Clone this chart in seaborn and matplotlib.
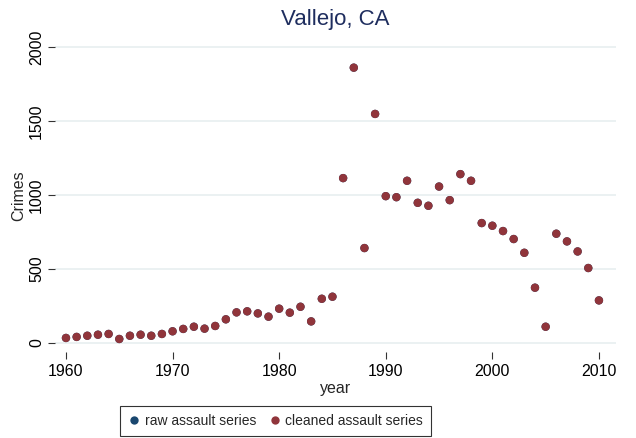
import numpy as np
import pandas as pd
import seaborn as sns
import matplotlib
matplotlib.use("Agg")
import matplotlib.pyplot as plt
from matplotlib.lines import Line2D

years = list(range(1960, 2011))
cleaned = [34, 41, 49, 56, 61, 27, 49, 56, 49, 61,
           79, 95, 110, 97, 115, 160, 207, 214, 200, 178,
           232, 205, 245, 146, 299, 313, 1115, 1862, 642, 1549,
           993, 986, 1097, 948, 928, 1058, 966, 1142, 1097, 811,
           793, 757, 703, 610, 374, 110, 739, 687, 619, 507, 288]
raw = list(cleaned)
series_names = ["raw assault series", "cleaned assault series"]
colors = ["#1a476f", "#90353b"]
x_ticks = [1960, 1970, 1980, 1990, 2000, 2010]
y_ticks = [0, 500, 1000, 1500, 2000]

sns.set_theme(style="white")
plt.rcParams['font.family'] = ['Liberation Sans', 'DejaVu Sans']

df = pd.DataFrame({
    "year": years * 2,
    "Crimes": raw + cleaned,
    "series": [series_names[0]] * len(years) + [series_names[1]] * len(years),
})

fig = plt.figure(figsize=(6.36, 4.38), dpi=100)
W, H = 636, 438
left, right, top, bottom = 55, 616, 40, 352
ax = fig.add_axes([left / W, 1 - bottom / H, (right - left) / W, (bottom - top) / H])

sns.scatterplot(data=df, x="year", y="Crimes", hue="series", hue_order=series_names,
                palette=colors, s=36, linewidth=0, ax=ax, legend=False, zorder=3)

ax.set_xlim(1958.97, 2011.6)
ax.set_ylim(-61, 2049)
ax.set_xticks(x_ticks)
ax.set_yticks(y_ticks)
ax.grid(axis="y", color="#e8eff0", linewidth=1.2, zorder=0)
ax.grid(axis="x", visible=False)
for s in ax.spines.values():
    s.set_visible(False)
ax.tick_params(axis="both", which="both", direction="out", length=5, width=0.8,
               color="#333333", labelsize=11.5, labelcolor="black", pad=3,
               bottom=True, left=True)
ax.tick_params(axis="x", pad=4)
ax.tick_params(axis="y", pad=3)
for lab in ax.get_yticklabels():
    lab.set_rotation(90)
    lab.set_va("center")
ax.set_xlabel("year", fontsize=11.5, labelpad=1)
ax.set_ylabel("Crimes", fontsize=11.5, labelpad=2)
fig.suptitle("Vallejo, CA", x=(left + right) / 2 / W, y=1 - 20 / H, va="center",
             fontsize=16, color="#1e2d5e")

handles = [Line2D([], [], marker="o", linestyle="", markersize=6,
                  markerfacecolor=c, markeredgewidth=0) for c in colors]
leg = fig.legend(handles, series_names, loc="center", ncol=2,
                 bbox_to_anchor=(275.5 / W, 1 - 421 / H), fontsize=10,
                 frameon=True, fancybox=False, edgecolor="black",
                 handletextpad=0.3, columnspacing=0.9, borderpad=0.6,
                 handlelength=0.9, borderaxespad=0)
leg.get_frame().set_linewidth(0.8)

fig.savefig("out.png", dpi=100)
